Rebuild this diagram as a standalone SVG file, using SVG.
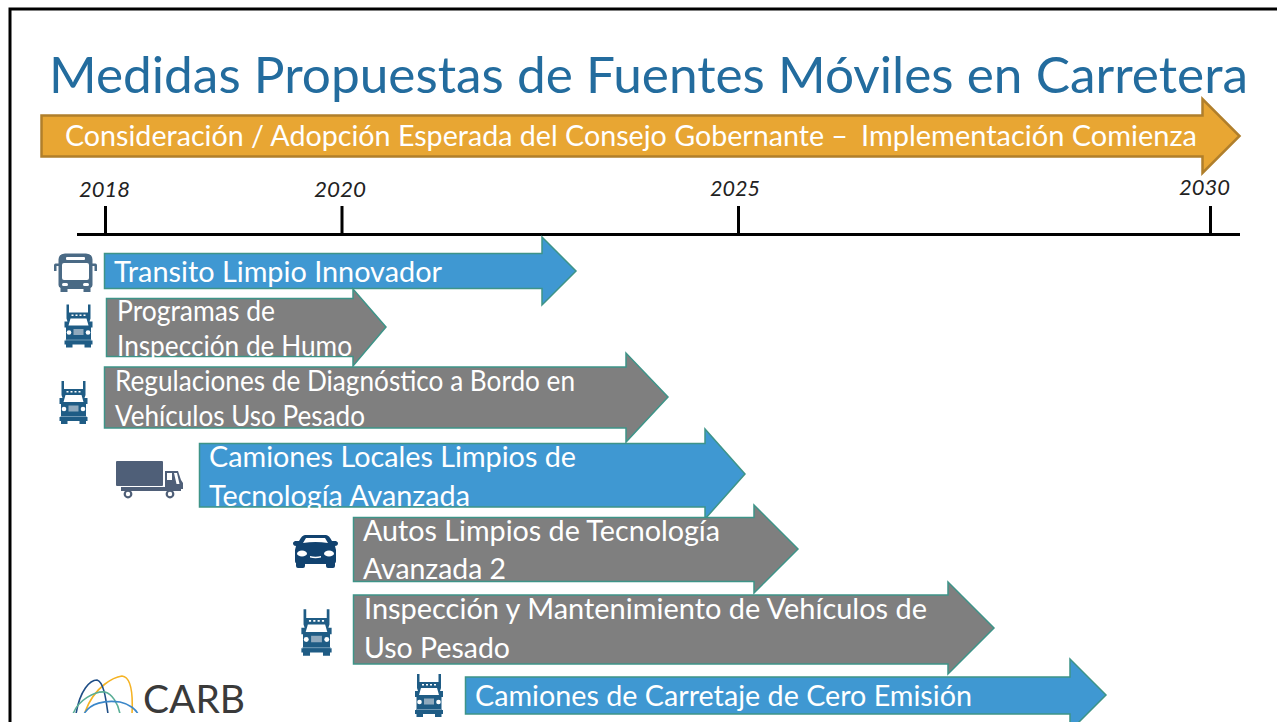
<svg xmlns="http://www.w3.org/2000/svg" width="1277" height="722" viewBox="0 0 1277 722">
<style>
text{font-family:"Lato","Noto Sans","Liberation Sans",sans-serif}
.t{fill:#fff;font-size:28px}
.y{fill:#222;font-size:22px;font-style:italic}
.blue{fill:#3F98D2;stroke:#3E9488;stroke-width:1.5}
.gray{fill:#7F7F7F;stroke:#3E9488;stroke-width:1.5}
.ax{stroke:#000;stroke-width:3;fill:none}
.arc{fill:none;stroke-width:1.6}
</style>
<defs>
<g id="truck">
<path fill="#1F5C85" d="M-12,-21H-9.500V-13H9.500V-21H12V-7L11,-4H14V2H12.500V15H14V19H12.500V22H6V19H-6V22H-12.500V19H-14V15H-12.500V2H-14V-4H-11L-12,-7Z"/>
<path fill="#fff" d="M-8,-7h16l2,7h-20z"/>
<path fill="#fff" d="M-7,-11h2v1.500h-2zM-3,-11h2v1.500h-2zM1,-11h2v1.500h-2zM5,-11h2v1.500h-2z"/>
<circle cx="-9.500" cy="7" r="2.300" fill="#fff"/><circle cx="9.500" cy="7" r="2.300" fill="#fff"/>
<rect x="-5" y="3.500" width="10" height="6" fill="#8FA9BD"/>
<rect x="-13" y="14" width="26" height="1" fill="#6F97B3"/>
</g>
<clipPath id="logoClip"><rect x="60" y="660" width="200" height="53"/></clipPath>
</defs>
<g id="frame"><path class="ax" d="M1277,9H10V722"/></g>
<g id="title"><text x="49" y="93" font-size="51" fill="#236C9E" textLength="1199" lengthAdjust="spacingAndGlyphs">Medidas Propuestas de Fuentes Móviles en Carretera</text></g>
<g id="banner">
<path fill="#E8A633" stroke="#B07F2B" stroke-width="2.500" d="M41.500,115.500H1202.500V99L1239.500,136L1202.500,173V156.500H41.500Z"/>
<text x="65" y="146" font-size="28" fill="#fff" textLength="783" lengthAdjust="spacingAndGlyphs">Consideración / Adopción Esperada del Consejo Gobernante –</text>
<text x="861" y="146" font-size="28" fill="#fff" textLength="336" lengthAdjust="spacingAndGlyphs">Implementación Comienza</text>
</g>
<g id="connectors">
<path class="ax" d="M77,234.500H1240M105.500,206V234M342,206V234M738.500,206V234M1210.500,206V234"/>
</g>
<g id="years">
<text class="y" x="79" y="197" textLength="51" lengthAdjust="spacingAndGlyphs">2018</text>
<text class="y" x="314" y="197" textLength="52" lengthAdjust="spacingAndGlyphs">2020</text>
<text class="y" x="710" y="196" textLength="50" lengthAdjust="spacingAndGlyphs">2025</text>
<text class="y" x="1179" y="195" textLength="51" lengthAdjust="spacingAndGlyphs">2030</text>
</g>
<g id="n1">
<path class="blue" d="M104.500,253.500H542V237L576,271L542,305V288.500H104.500Z"/>
<text class="t" x="114" y="282" textLength="328" lengthAdjust="spacingAndGlyphs">Transito Limpio Innovador</text>
<g id="bus" fill="#4A6A85">
<path d="M65,253.500H86Q92,253.500 92.500,259.500V263.500H95.500Q97,263.500 97,265.500V271H94.500V266H92.500V285Q92.500,287 90.500,288V292H83.500V289H67.500V292H60.500V288Q58.500,287 58.500,285V266H56.500V271H54V265.500Q54,263.500 55.500,263.500H58.500V259.500Q59,253.500 65,253.500Z"/>
<rect x="62" y="263" width="27" height="17" rx="2" fill="#fff"/>
<rect x="66" y="257" width="19" height="3" rx="1" fill="#fff"/>
<rect x="62" y="283" width="6" height="3" rx="1.500" fill="#fff"/>
<rect x="83" y="283" width="6" height="3" rx="1.500" fill="#fff"/>
</g>
</g>
<g id="n2">
<path class="gray" d="M106.500,298.500H353V289L386,327L353,366V356.500H106.500Z"/>
<text class="t" x="117" y="321" textLength="158" lengthAdjust="spacingAndGlyphs">Programas de</text>
<text class="t" x="117" y="356" textLength="235" lengthAdjust="spacingAndGlyphs">Inspección de Humo</text>
<use href="#truck" x="78.500" y="325.500"/>
</g>
<g id="n3">
<path class="gray" d="M104.500,367H626V353L668,397L626,442V428H104.500Z"/>
<text class="t" x="115" y="391" textLength="460" lengthAdjust="spacingAndGlyphs">Regulaciones de Diagnóstico a Bordo en</text>
<text class="t" x="115" y="426" textLength="250" lengthAdjust="spacingAndGlyphs">Vehículos Uso Pesado</text>
<use href="#truck" x="73.500" y="402"/>
</g>
<g id="n4">
<path class="blue" d="M199.500,443.500H705V429L745,474L705,519V507H199.500Z"/>
<text class="t" x="209" y="467" textLength="367" lengthAdjust="spacingAndGlyphs">Camiones Locales Limpios de</text>
<text class="t" x="209" y="506" textLength="261" lengthAdjust="spacingAndGlyphs">Tecnología Avanzada</text>
<g id="box-truck" fill="#4F5F78">
<rect x="116" y="461" width="47" height="25" rx="1"/>
<path d="M165,471h13l3,9l2,3v6h-2v2h-60v-4h44z"/>
<path d="M167,473h5v7h-5z M174,473h3l2.500,11h-3z" fill="#fff"/>
<circle cx="128" cy="494" r="3.300" fill="#fff" stroke="#4F5F78" stroke-width="2.200"/>
<circle cx="170" cy="494" r="3.300" fill="#fff" stroke="#4F5F78" stroke-width="2.200"/>
</g>
</g>
<g id="n5">
<path class="gray" d="M353.500,517.500H754V505L798,549L754,593V581.500H353.500Z"/>
<text class="t" x="363" y="541" textLength="357" lengthAdjust="spacingAndGlyphs">Autos Limpios de Tecnología</text>
<text class="t" x="363" y="579" textLength="143" lengthAdjust="spacingAndGlyphs">Avanzada 2</text>
<g id="car" fill="#11426F">
<path d="M305,535H326Q329,535 332,541H336Q338.500,542 338,544T335,546L336,550V561Q336,563 335,563V566Q335,568 333,568H328Q326,568 326,566V564H305V566Q305,568 303,568H298Q296,568 296,566V563Q295,563 295,561V550L296,546Q293.500,546 293,544T295,541H299Q302,535 305,535Z"/>
<path d="M306,538h19l3,5q-12.500-2-25,0z" fill="#fff"/>
<ellipse cx="302" cy="553.500" rx="5" ry="3" fill="#fff"/>
<ellipse cx="329" cy="553.500" rx="5" ry="3" fill="#fff"/>
<path d="M310,556q5.500,1.500 11,0v1.500q-5.500,1.500-11,0z" fill="#fff"/>
</g>
</g>
<g id="n6">
<path class="gray" d="M353.500,595H948V582L994,628L948,674V664H353.500Z"/>
<text class="t" x="364" y="619" textLength="563" lengthAdjust="spacingAndGlyphs">Inspección y Mantenimiento de Vehículos de</text>
<text class="t" x="364" y="658" textLength="146" lengthAdjust="spacingAndGlyphs">Uso Pesado</text>
<use href="#truck" transform="translate(316.500 632) scale(1.080)"/>
</g>
<g id="n7">
<path class="blue" d="M465.500,677H1070V659L1106,695L1070,731V714H465.500Z"/>
<text class="t" x="475" y="706" textLength="497" lengthAdjust="spacingAndGlyphs">Camiones de Carretaje de Cero Emisión</text>
<use href="#truck" x="429" y="695"/>
</g>
<g id="logo">
<g clip-path="url(#logoClip)">
<path class="arc" stroke="#F5B324" d="M85,712C95,685 115,677 122,676C132,677 133,695 132,714"/>
<path class="arc" stroke="#1F4E86" d="M76,714C80,690 90,680 97,680C104,682 106,700 108,714"/>
<path class="arc" stroke="#5AAE96" d="M73,714C78,700 95,691 105,692C112,694 118,703 120,714"/>
<path class="arc" stroke="#3B87C9" d="M84,714C90,703 105,700 120,702C130,704 136,710 138,714"/>
</g>
<text x="143" y="713" font-size="38" fill="#3A3A3A" textLength="102" lengthAdjust="spacingAndGlyphs">CARB</text>
</g>
</svg>
